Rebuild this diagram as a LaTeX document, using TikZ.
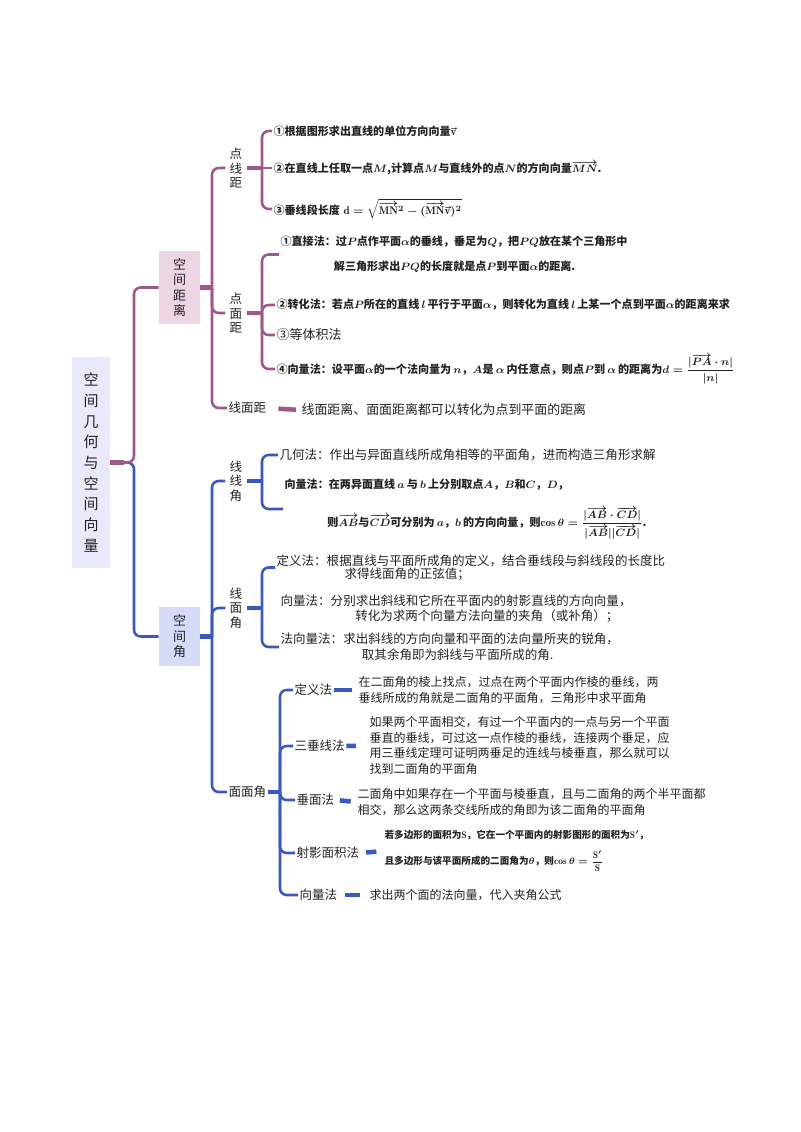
\documentclass[tikz,border=0pt]{standalone}
\usepackage{amsmath,amssymb}
\usepackage{fontspec}
\newfontfamily\cjk{Noto Sans CJK SC}
\usepackage{tikz}
\usetikzlibrary{calc}

\definecolor{plin}{RGB}{158,88,138}
\definecolor{blin}{RGB}{58,88,196}
\definecolor{distfill}{RGB}{236,214,228}
\definecolor{angfill}{RGB}{214,219,248}
\definecolor{rootfill}{RGB}{232,233,250}
\definecolor{ink}{RGB}{35,35,35}

\tikzset{
  rootbox/.style={fill=rootfill, minimum width=28.5pt, minimum height=158pt, inner sep=0pt,
    align=center, text=ink, font=\cjk\fontsize{11.25}{15.5}\selectfont},
  distbox/.style={fill=distfill, minimum width=30.75pt, minimum height=54.75pt, inner sep=0pt,
    align=center, text=ink, font=\cjk\fontsize{9.75}{11.6}\selectfont},
  angbox/.style={distbox, fill=angfill, minimum height=44.25pt},
  vlab/.style={align=center, inner xsep=3pt, inner ysep=1pt, text=ink,
    font=\cjk\fontsize{9.4}{10.9}\selectfont},
  hlab/.style={anchor=west, inner sep=1pt, text=ink, font=\cjk\fontsize{9.4}{11}\selectfont},
  desc/.style={anchor=west, align=left, inner sep=1pt, text=ink,
    font=\cjk\fontsize{9.4}{11.3}\selectfont},
  descm/.style={desc, font=\cjk\fontsize{9}{11.6}\selectfont},
  itemb/.style={anchor=west, align=left, inner sep=1pt, text=ink,
    font=\cjk\fontsize{8.3}{11}\selectfont\bfseries\boldmath},
  smallb/.style={itemb, font=\cjk\fontsize{7.2}{9}\selectfont\bfseries\boldmath},
  pbus/.style={draw=plin, line width=1.9pt, rounded corners=5pt},
  bbus/.style={draw=blin, line width=1.9pt, rounded corners=5pt},
  pstub/.style={draw=plin, line width=3.4pt},
  bstub/.style={draw=blin, line width=3.4pt},
}

\begin{document}
\begin{tikzpicture}[x=0.75pt,y=-0.75pt]
  \useasboundingbox (0,0) rectangle (800,1132);

  % root and first level
  \node[rootbox] (root) at (91,462.5) {空\\间\\几\\何\\与\\空\\间\\向\\量};
  \node[distbox] (dist) at (179.5,287.5) {空\\间\\距\\离};
  \node[angbox] (ang) at (179.5,636.5) {空\\间\\角};

  \coordinate (rj) at (134,462.5);
  \draw[bbus] (root.east) -- (rj) |- (ang.west);
  \draw[pbus] (root.east) -- (rj) |- (dist.west);
  \draw[pstub] (root.east) -- ++(14,0);

  % distance branch
  \node[vlab] (dxj) at (236,168) {点\\线\\距};
  \node[vlab] (dmj) at (236,313) {点\\面\\距};
  \node[hlab] (xmj) at (227,408) {线面距};

  \coordinate (dj) at (212,287.5);
  \draw[pstub] (dist.east) -- (dj);
  \foreach \n in {dxj,dmj,xmj}
    \draw[pbus] (dj) |- (\n.west);

  % point to line
  \node[itemb] (dx1) at (272,131) {①根据图形求出直线的单位方向向量$\vec{\mathrm{v}}$};
  \node[itemb] (dx2) at (272,168) {②在直线上任取一点$M$,计算点$M$与直线外的点$N$的方向向量$\overrightarrow{MN}$.};
  \node[itemb] (dx3) at (272,209) {③垂线段长度$\;\mathrm{d}=\sqrt{\overrightarrow{\mathrm{MN}}^{2}-(\overrightarrow{\mathrm{MN}}\vec{\mathrm{v}})^{2}}$};

  \coordinate (dxb) at (262,168);
  \draw[pstub] (dxj.east) -- (dxb);
  \draw[pbus] (dx1.west) -| (dxb) |- (dx3.west);
  \draw[pbus] (dxb) -- (dx2.west);

  % point to plane
  \node[itemb, font=\cjk\fontsize{8.3}{18.75}\selectfont\bfseries\boldmath] (dm1) at (279,254.5)
    {①直接法：过$P$点作平面$\alpha$的垂线，垂足为$Q$，把$PQ$放在某个三角形中\\
     \hspace*{40pt}解三角形求出$PQ$的长度就是点$P$到平面$\alpha$的距离.};
  \node[itemb] (dm2) at (275,305) {②转化法：若点$P$所在的直线$\,l\,$平行于平面$\alpha$，则转化为直线$\,l\,$上某一个点到平面$\alpha$的距离来求};
  \node[desc, font=\cjk\fontsize{9.75}{11}\selectfont] (dm3) at (275,335) {③等体积法};
  \node[itemb] (dm4) at (275,369) {④向量法：设平面$\alpha$的一个法向量为$\,n$，$A$是$\,\alpha\,$内任意点，则点$P$到$\,\alpha\,$的距离为$d=\dfrac{|\overrightarrow{PA}\cdot n|}{|n|}$};

  \coordinate (dmb) at (262,313);
  \draw[pstub] (dmj.east) -- (dmb);
  \draw[pbus] (dm1.west) -| (dmb) |- (dm4.west);
  \foreach \n in {dm2,dm3}
    \draw[pbus] (dmb) |- (\n.west);

  % line to plane distance
  \node[desc, font=\cjk\fontsize{9.7}{11}\selectfont] (xm1) at (300,410) {线面距离、面面距离都可以转化为点到平面的距离};
  \draw[pstub, shorten <=8pt, shorten >=3pt] (xmj.east) -- (xm1.west);

  % angle branch
  \node[vlab] (llj) at (236,481) {线\\线\\角};
  \node[vlab] (lmj) at (236,608) {线\\面\\角};
  \node[hlab] (mmj) at (227,792) {面面角};

  \coordinate (aj) at (212,636.5);
  \draw[bstub] (ang.east) -- (aj);
  \foreach \n in {llj,lmj,mmj}
    \draw[bbus] (aj) |- (\n.west);

  % line to line angle
  \node[desc] (ll1) at (278,455) {几何法：作出与异面直线所成角相等的平面角，进而构造三角形求解};
  \node[itemb] (ll2) at (283,509) {向量法：在两异面直线$\,a\,$与$\,b\,$上分别取点$A$，$B$和$C$，$D$，\\[12pt]
     \hspace*{32pt}则$\overrightarrow{AB}$与$\overrightarrow{CD}$可分别为$\,a$，$b\,$的方向向量，则$\cos\theta=\dfrac{|\overrightarrow{AB}\cdot\overrightarrow{CD}|}{|\overrightarrow{AB}||\overrightarrow{CD}|}$.};

  \coordinate (llb) at (262,481);
  \draw[bstub] (llj.east) -- (llb);
  \draw[bbus] (ll1.west) -| (llb) |- (ll2.west);

  % line to plane angle
  \node[desc, font=\cjk\fontsize{9.4}{9.9}\selectfont] (lm1) at (275,567.5)
    {定义法：根据直线与平面所成角的定义，结合垂线段与斜线段的长度比\\
     \hspace*{51pt}求得线面角的正弦值；};
  \node[desc] (lm2) at (279,608.5)
    {向量法：分别求出斜线和它所在平面内的射影直线的方向向量，\\
     \hspace*{56pt}转化为求两个向量方法向量的夹角（或补角）；};
  \node[desc, font=\cjk\fontsize{9.4}{12}\selectfont] (lm3) at (279,647)
    {法向量法：求出斜线的方向向量和平面的法向量所夹的锐角，\\
     \hspace*{61pt}取其余角即为斜线与平面所成的角.};

  \coordinate (lmb) at (262,608);
  \draw[bstub] (lmj.east) -- (lmb);
  \draw[bbus] (lm1.west) -| (lmb) |- (lm3.west);

  % dihedral angle
  \node[hlab] (m1) at (293,690) {定义法};
  \node[hlab] (m2) at (293,746) {三垂线法};
  \node[hlab] (m3) at (295,800) {垂面法};
  \node[hlab] (m4) at (295,853) {射影面积法};
  \node[hlab] (m5) at (298,895) {向量法};

  \coordinate (mmb) at (280,792);
  \draw[bstub] (mmj.east) -- (mmb);
  \draw[bbus] (m1.west) -| (mmb) |- (m5.west);
  \foreach \n in {m2,m3,m4}
    \draw[bbus] (mmb) |- (\n.west);

  \node[descm] (md1) at (357,690)
    {在二面角的棱上找点，过点在两个平面内作棱的垂线，两\\
     垂线所成的角就是二面角的平面角，三角形中求平面角};
  \node[descm] (md2) at (368,745.5)
    {如果两个平面相交，有过一个平面内的一点与另一个平面\\
     垂直的垂线，可过这一点作棱的垂线，连接两个垂足，应\\
     用三垂线定理可证明两垂足的连线与棱垂直，那么就可以\\
     找到二面角的平面角};
  \node[descm] (md3) at (356,802)
    {二面角中如果存在一个平面与棱垂直，且与二面角的两个半平面都\\
     相交，那么这两条交线所成的角即为该二面角的平面角};
  \node[smallb] (md4) at (383,851)
    {若多边形的面积为$\mathrm{S}$，它在一个平面内的射影图形的面积为$\mathrm{S}'$，\\[7pt]
     且多边形与该平面所成的二面角为$\theta$，则$\cos\theta=\dfrac{\mathrm{S}'}{\mathrm{S}}$};
  \node[descm] (md5) at (368,895) {求出两个面的法向量，代入夹角公式};

  \draw[bstub, shorten >=4pt] (m1.east) -- (md1.west);
  \draw[bstub, shorten >=9pt] (m2.east) -- (md2.west);
  \draw[bstub, shorten <=3pt, shorten >=4pt] (m3.east) -- (md3.west);
  \draw[bstub, shorten <=4pt, shorten >=5pt] (m4.east) -- (md4.west);
  \draw[bstub, shorten <=5pt, shorten >=6pt] (m5.east) -- (md5.west);
\end{tikzpicture}
\end{document}
